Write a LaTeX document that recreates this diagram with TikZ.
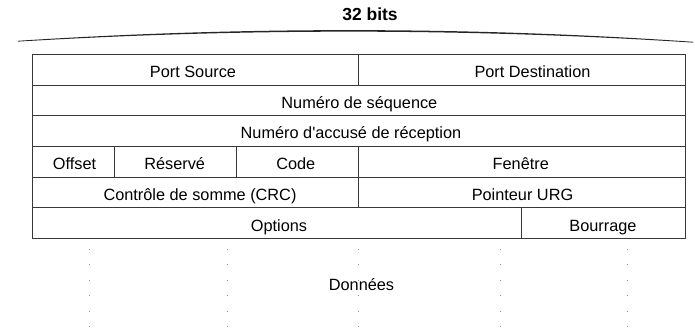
\documentclass[tikz,border=0pt]{standalone}
\usepackage{fontspec}
\setmainfont{Liberation Sans}
\begin{document}
\begin{tikzpicture}[x=1pt,y=-1pt,
  grid/.style={draw=black!78,line width=0.9pt},
  lbl/.style={anchor=base,inner sep=0pt,font=\fontsize{16.3}{18}\selectfont},
  ttl/.style={anchor=base,inner sep=0pt,font=\fontsize{17.5}{20}\bfseries\selectfont},
  dotmark/.style={fill=black!45}]
\useasboundingbox (0,0) rectangle (695,330);
% brace
\fill[black!85] (18,41.6) .. controls (240,28.2) and (470,28.2) .. (693,42.6)
  -- (693,41.8) .. controls (470,26.4) and (240,26.4) .. (18,40.8) -- cycle;
\node[ttl] (title) at (370,20.7) {32 bits};
% coordinates of grid
\coordinate (tl) at (32.3,54);
\coordinate (br) at (685,238.3);
\draw[grid] (tl) rectangle (br);
\foreach \y in {85,115,146.5,177,207.5}
  \draw[grid] (32.3,\y) -- (685,\y);
\draw[grid] (358.3,54) -- (358.3,85);
\draw[grid] (114.3,146.5) -- (114.3,177);
\draw[grid] (236.7,146.5) -- (236.7,177);
\draw[grid] (358.3,146.5) -- (358.3,207.5);
\draw[grid] (521.7,207.5) -- (521.7,238.3);
% labels
\node[lbl] (ps) at (193,77.3) {Port Source};
\node[lbl] (pd) at (532.5,77.3) {Port Destination};
\node[lbl] (seq) at (359.4,108.3) {Numéro de séquence};
\node[lbl] (ack) at (351,138.8) {Numéro d\textquotesingle accusé de réception};
\node[lbl] (off) at (74.5,169.5) {Offset};
\node[lbl] (res) at (174.7,169.5) {Réservé};
\node[lbl] (code) at (295.8,169.5) {Code};
\node[lbl] (win) at (520.8,169.5) {Fenêtre};
\node[lbl] (crc) at (200,200.3) {Contrôle de somme (CRC)};
\node[lbl] (urg) at (522.5,200.3) {Pointeur URG};
\node[lbl] (opt) at (279,231.2) {Options};
\node[lbl] (pad) at (603,231.2) {Bourrage};
% data dots
\foreach \x in {89,227,358.3,500,627.3}
  \foreach \y in {249.3,264.8,280.3,295.8,311.3,326.8}
    \fill[dotmark] (\x-0.5,\y-0.5) rectangle (\x+0.5,\y+0.5);
\node[lbl] (data) at (361.5,290) {Données};
\end{tikzpicture}
\end{document}
